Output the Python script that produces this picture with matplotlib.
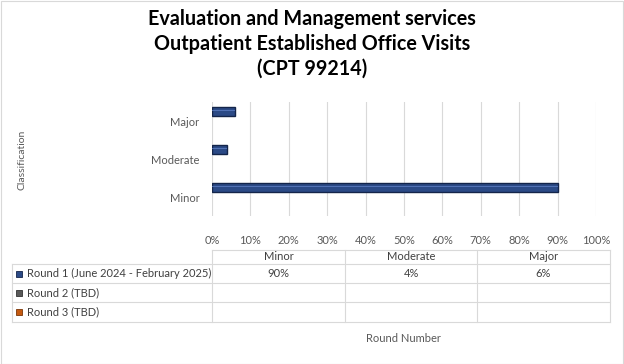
import matplotlib
matplotlib.use("Agg")
import matplotlib.pyplot as plt
from matplotlib.patches import Rectangle
import numpy as np

plt.rcParams['font.family'] = ['Lato', 'DejaVu Sans']

categories = ['Minor', 'Moderate', 'Major']
series_names = ['Round 1 (June 2024 - February 2025)', 'Round 2 (TBD)', 'Round 3 (TBD)']
round1 = [90, 4, 6]
round2 = [None, None, None]
round3 = [None, None, None]
colors = ['#2b4a86', '#595959', '#c55a11']
edges = ['#14254a', '#333333', '#7a3507']

fig = plt.figure(figsize=(6.24, 3.64), dpi=100)

# chart frame
fig.patches.append(Rectangle((0.001, 0.001), 0.997, 0.997, transform=fig.transFigure,
                             fill=False, edgecolor='#d9d9d9', linewidth=0.8))

fig.text(0.5, 0.975, 'Evaluation and Management services\nOutpatient Established Office Visits\n(CPT 99214)',
         ha='center', va='top', fontsize=14.2, fontweight='bold', linespacing=1.3)

ax = fig.add_axes([212 / 624, 148 / 364, 384 / 624, 114 / 364])
y = np.arange(len(categories))
h = 0.24
for i, vals in enumerate([round1, round2, round3]):
    if all(x is None for x in vals):
        continue
    v = [0 if x is None else x for x in vals]
    ax.barh(y + h - i * h, v, height=h, color=colors[i], edgecolor=edges[i], linewidth=1.0, zorder=3)
    # highlight stripe for bevel look
    ax.barh(y + h - i * h + h * 0.18, v, height=h * 0.16, color='#5b7cc0', linewidth=0,
            zorder=4, alpha=0.8)

ax.set_xlim(0, 100)
ax.set_ylim(-0.5, 2.5)
ax.set_xticks(np.arange(0, 101, 10))
ax.set_xticklabels([f'{t}%' for t in range(0, 101, 10)])
ax.set_yticks(y)
ax.set_yticklabels(categories)
ax.grid(axis='x', color='#d9d9d9', linewidth=0.8, zorder=0)
for s in ax.spines.values():
    s.set_visible(False)
ax.tick_params(length=0, labelsize=8, colors='#595959')
ax.tick_params(axis='x', pad=14)
ax.tick_params(axis='y', pad=9)

fig.text(22 / 624, 1 - 160 / 364, 'Classification', rotation=90, ha='center', va='center',
         fontsize=7.5, color='#595959')

# data table below the chart (pixel coordinates)
tx = fig.add_axes([0, 0, 1, 1])
tx.set_xlim(0, 624)
tx.set_ylim(364, 0)
tx.axis('off')
tx.patch.set_alpha(0)
cols = [12, 212, 345, 477, 610]
rows = [250, 264, 283, 302, 322]
lc = '#d9d9d9'
tx.plot([cols[1], cols[-1]], [rows[0], rows[0]], color=lc, lw=0.8)
for r in rows[1:]:
    tx.plot([cols[0], cols[-1]], [r, r], color=lc, lw=0.8)
tx.plot([cols[0], cols[0]], [rows[1], rows[-1]], color=lc, lw=0.8)
for c in cols[1:]:
    tx.plot([c, c], [rows[0], rows[-1]], color=lc, lw=0.8)
for j, cat in enumerate(categories):
    cx = (cols[j + 1] + cols[j + 2]) / 2
    tx.text(cx, (rows[0] + rows[1]) / 2, cat, ha='center', va='center', fontsize=8, color='#404040')
for i, (name, vals) in enumerate(zip(series_names, [round1, round2, round3])):
    cy = (rows[i + 1] + rows[i + 2]) / 2
    tx.add_patch(Rectangle((16, cy - 3), 6, 6, facecolor=colors[i], edgecolor=edges[i], lw=0.6))
    tx.text(27, cy, name, ha='left', va='center', fontsize=8, color='#404040')
    for j, v in enumerate(vals):
        if v is not None:
            cx = (cols[j + 1] + cols[j + 2]) / 2
            tx.text(cx, cy, f'{v}%', ha='center', va='center', fontsize=8, color='#404040')

tx.text(403, 338, 'Round Number', ha='center', va='center', fontsize=8, color='#595959')

fig.savefig('out.png', dpi=100)
